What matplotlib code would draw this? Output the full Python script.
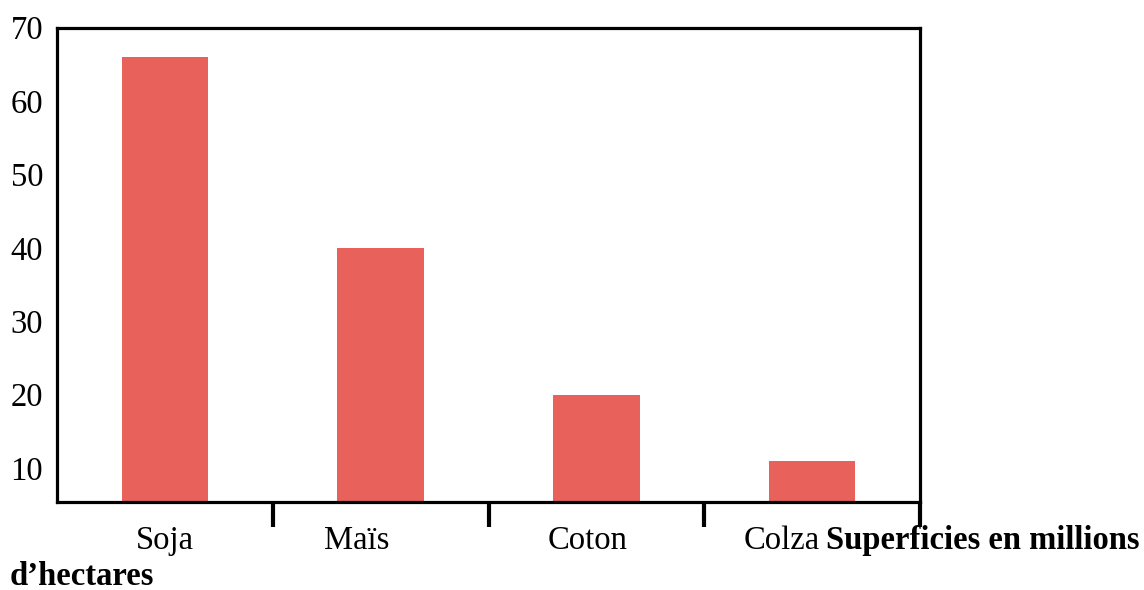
import matplotlib
matplotlib.use("Agg")
import matplotlib.pyplot as plt
from matplotlib.transforms import blended_transform_factory

categories = ["Soja", "Maïs", "Coton", "Colza"]
values = [66, 40, 20, 11]
yticks = [10, 20, 30, 40, 50, 60, 70]
axis_title_1 = "Superficies en millions"
axis_title_2 = "d\u2019hectares"

plt.rcParams["font.family"] = ["Liberation Serif", "DejaVu Serif"]

W, H = 1144, 590
fig = plt.figure(figsize=(W / 100, H / 100), dpi=100)
ax = fig.add_axes([57 / W, 1 - 501.7 / H, (920 - 57) / W, (501.7 - 27.7) / H])

x = list(range(len(categories)))
ymin = 5.4
ax.bar(x, [v - ymin for v in values], bottom=ymin, width=0.4, color="#E8625B")

FS = 23.5
ax.set_xlim(-0.5, len(categories) - 0.5)
ax.set_ylim(ymin, 70)
ax.set_yticks(yticks)
ax.set_yticklabels([str(t) for t in yticks], fontsize=FS)
ax.tick_params(axis="y", length=0, pad=10)

ax.set_xticks([i + 0.5 for i in x])
ax.set_xticklabels([])
ax.tick_params(axis="x", length=18, width=3.0, direction="out", color="black")

for s in ax.spines.values():
    s.set_linewidth(2.3)
    s.set_color("black")

trans = blended_transform_factory(ax.transData, fig.transFigure)
label_shift = [0.0, -0.11, -0.04, -0.14]
for i, c in enumerate(categories):
    ax.text(i + label_shift[i], 1 - 549 / H, c, transform=trans, ha="center",
            va="baseline", fontsize=FS)

fig.text(826 / W, 1 - 549 / H, axis_title_1, ha="left", va="baseline",
         fontsize=FS, fontweight="bold")
fig.text(10 / W, 1 - 585 / H, axis_title_2, ha="left", va="baseline",
         fontsize=FS, fontweight="bold")

fig.savefig("out.png", dpi=100)
